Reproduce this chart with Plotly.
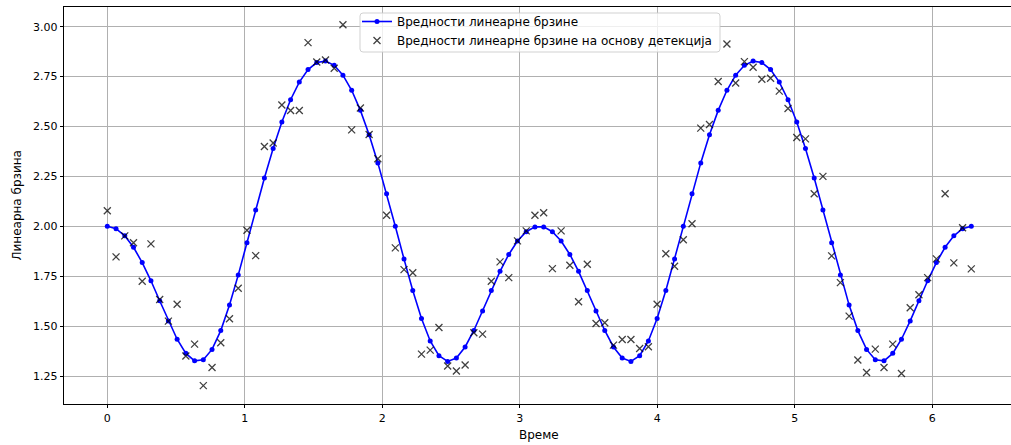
import plotly.graph_objects as go

N = 100
step = 6.283185307179586 / 99
time_s = [round(i * step, 5) for i in range(N)]

half_speed = [2.0000, 1.9880, 1.9524, 1.8949, 1.8184, 1.7272, 1.6272, 1.5262, 1.4344, 1.3636,
              1.3262, 1.3317, 1.3834, 1.4777, 1.6054, 1.7556, 1.9175, 2.0821, 2.2417, 2.3900,
              2.5222, 2.6340, 2.7224, 2.7851, 2.8204, 2.8275, 2.8063, 2.7571, 2.6813, 2.5808,
              2.4584, 2.3176, 2.1629, 2.0000, 1.8357, 1.6784, 1.5381, 1.4258, 1.3518, 1.3232,
              1.3400, 1.3956, 1.4784, 1.5762, 1.6779, 1.7743, 1.8588, 1.9262, 1.9730, 1.9970]
speed = half_speed + half_speed[::-1]

detected = [2.078, 1.847, 1.952, 1.918, 1.725, 1.912, 1.633, 1.525, 1.610, 1.350,
            1.410, 1.202, 1.293, 1.417, 1.537, 1.690, 1.980, 1.853, 2.400, 2.417,
            2.608, 2.580, 2.580, 2.920, 2.823, 2.833, 2.792, 3.010, 2.483, 2.593,
            2.460, 2.338, 2.055, 1.892, 1.783, 1.767, 1.360, 1.380, 1.493, 1.300,
            1.275, 1.305, 1.467, 1.460, 1.725, 1.822, 1.743, 1.927, 1.977, 2.055,
            2.068, 1.788, 1.977, 1.805, 1.622, 1.810, 1.513, 1.517, 1.405, 1.433,
            1.433, 1.388, 1.397, 1.610, 1.863, 1.800, 1.933, 2.013, 2.492, 2.510,
            2.725, 2.913, 2.718, 2.825, 2.797, 2.737, 2.742, 2.677, 2.590, 2.445,
            2.438, 2.163, 2.250, 1.852, 1.718, 1.550, 1.330, 1.268, 1.385, 1.293,
            1.410, 1.263, 1.592, 1.657, 1.743, 1.837, 2.163, 1.817, 1.993, 1.787]

x_ticks = [0, 1, 2, 3, 4, 5, 6]
y_ticks = [1.25, 1.50, 1.75, 2.00, 2.25, 2.50, 2.75, 3.00]
y_tick_text = ["1.25", "1.50", "1.75", "2.00", "2.25", "2.50", "2.75", "3.00"]

name_line = "Вредности линеарне брзине"
name_det = "Вредности линеарне брзине на основу детекција"
x_title = "Време"
y_title = "Линеарна брзина"

FONT = "DejaVu Sans"

fig = go.Figure()
fig.add_trace(go.Scatter(
    x=time_s, y=speed, mode="lines+markers", name=name_line,
    line=dict(color="#0000ff", width=1.6),
    marker=dict(color="#0000ff", size=5, symbol="circle"),
))
fig.add_trace(go.Scatter(
    x=time_s, y=detected, mode="markers", name=name_det,
    marker=dict(symbol="x-thin", size=7, line=dict(color="rgba(0,0,0,0.75)", width=1.3),
                color="rgba(0,0,0,0.75)"),
))

L, R, T, B = 64, 0, 7, 41
W, H = 1011, 445
pw = W - L - R
ph = H - T - B


def px(xp):
    return (xp - L) / pw


def py(yp):
    return (H - B - yp) / ph


def rounded_box(x0, y0, x1, y1, r):
    pts = [
        f"M {px(x0 + r)},{py(y0)}",
        f"L {px(x1 - r)},{py(y0)}",
        f"Q {px(x1)},{py(y0)} {px(x1)},{py(y0 + r)}",
        f"L {px(x1)},{py(y1 - r)}",
        f"Q {px(x1)},{py(y1)} {px(x1 - r)},{py(y1)}",
        f"L {px(x0 + r)},{py(y1)}",
        f"Q {px(x0)},{py(y1)} {px(x0)},{py(y1 - r)}",
        f"L {px(x0)},{py(y0 + r)}",
        f"Q {px(x0)},{py(y0)} {px(x0 + r)},{py(y0)}",
        "Z",
    ]
    return " ".join(pts)


fig.update_layout(
    width=W, height=H,
    margin=dict(l=L, r=R, t=T, b=B, pad=0),
    paper_bgcolor="white", plot_bgcolor="white",
    font=dict(family=FONT, size=11, color="#000000"),
    showlegend=True,
    legend=dict(
        x=px(357), y=py(7), xanchor="left", yanchor="top",
        bgcolor="rgba(0,0,0,0)", borderwidth=0,
        font=dict(family=FONT, size=12, color="#000000"),
        tracegroupgap=0, itemwidth=30,
    ),
    shapes=[dict(
        type="path", xref="paper", yref="paper", layer="above",
        path=rounded_box(360, 13, 720, 52, 3),
        fillcolor="rgba(255,255,255,0.8)",
        line=dict(color="rgba(204,204,204,0.9)", width=1),
    )],
    xaxis=dict(
        range=[-0.315, 6.572], tickvals=x_ticks, ticktext=[str(v) for v in x_ticks],
        showgrid=True, gridcolor="#b0b0b0", gridwidth=0.8, zeroline=False,
        showline=True, linecolor="#000000", linewidth=0.8, mirror=True,
        ticks="outside", ticklen=3.5, tickwidth=0.8, tickcolor="#000000",
        tickfont=dict(family=FONT, size=11, color="#000000"),
    ),
    yaxis=dict(
        range=[1.11, 3.0985], tickvals=y_ticks, ticktext=y_tick_text,
        showgrid=True, gridcolor="#b0b0b0", gridwidth=0.8, zeroline=False,
        showline=True, linecolor="#000000", linewidth=0.8, mirror=False,
        ticks="outside", ticklen=3.5, tickwidth=0.8, tickcolor="#000000",
        tickfont=dict(family=FONT, size=11, color="#000000"),
    ),
    annotations=[
        dict(text=x_title, xref="paper", yref="paper", x=px(539), y=py(435),
             xanchor="center", yanchor="middle", showarrow=False,
             font=dict(family=FONT, size=12, color="#000000")),
        dict(text=y_title, xref="paper", yref="paper", x=px(16), y=0.5,
             xanchor="center", yanchor="middle", showarrow=False, textangle=-90,
             font=dict(family=FONT, size=12, color="#000000")),
    ],
)

fig.write_html("out.html")
